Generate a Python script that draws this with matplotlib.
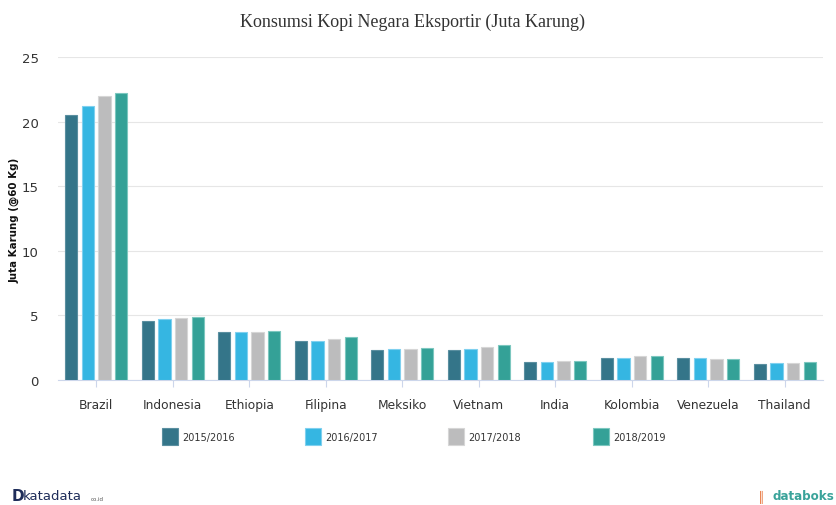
import matplotlib
matplotlib.use("Agg")
import matplotlib.pyplot as plt
import numpy as np
from matplotlib.patches import Rectangle

categories = ["Brazil", "Indonesia", "Ethiopia", "Filipina", "Meksiko",
              "Vietnam", "India", "Kolombia", "Venezuela", "Thailand"]
seasons = ["2015/2016", "2016/2017", "2017/2018", "2018/2019"]
v2015 = [20.5, 4.6, 3.75, 3.05, 2.3, 2.3, 1.43, 1.74, 1.67, 1.25]
v2016 = [21.2, 4.7, 3.75, 3.05, 2.4, 2.4, 1.43, 1.74, 1.67, 1.35]
v2017 = [22.0, 4.77, 3.75, 3.2, 2.4, 2.55, 1.5, 1.82, 1.59, 1.35]
v2018 = [22.2, 4.84, 3.83, 3.33, 2.47, 2.7, 1.5, 1.82, 1.59, 1.43]
series = [v2015, v2016, v2017, v2018]
colors = ["#347589", "#35b6e2", "#bcbcbd", "#34a197"]
edges = ["#5a8fa0", "#7fd0ef", "#d6d6d6", "#7cc7bf"]
yticks = [0, 5, 10, 15, 20, 25]

W, H = 837, 506
fig = plt.figure(figsize=(W / 100, H / 100), dpi=100)
ax = fig.add_axes([58 / W, (H - 381) / H, (823 - 58) / W, (381 - 58) / H])

x = np.arange(len(categories))
pitch = 0.218
width = 0.162
for i, vals in enumerate(series):
    ax.bar(x + (i - 1.5) * pitch, vals, width=width, color=colors[i],
           edgecolor=edges[i], linewidth=0.8, zorder=3)

ax.set_xlim(-0.5, len(categories) - 0.5)
ax.set_ylim(0, 25)
ax.set_yticks(yticks)
ax.set_yticklabels([str(t) for t in yticks])
ax.set_xticks(x)
ax.set_xticklabels(categories)
ax.grid(axis="y", color="#e6e6e6", linewidth=0.8, zorder=0)
for s in ["top", "right", "left"]:
    ax.spines[s].set_visible(False)
ax.spines["bottom"].set_color("#ccd6eb")
ax.tick_params(axis="y", length=0, pad=14, labelsize=9.5, labelcolor="#333333")
ax.tick_params(axis="x", length=5, color="#ccd6eb", pad=8, labelsize=8.8,
               labelcolor="#333333")

fig.text(14 / W, 1 - 220 / H, "Juta Karung (@60 Kg)", rotation=90,
         ha="center", va="center", fontsize=7.4, fontweight="bold", color="#111111")

fig.text(413 / W, 1 - 22 / H, "Konsumsi Kopi Negara Eksportir (Juta Karung)",
         ha="center", va="center", fontsize=13, family="Liberation Serif",
         color="#333333")

# legend
leg_x = [162, 305, 448, 593]
for i, name in enumerate(seasons):
    fig.patches.append(Rectangle((leg_x[i] / W, (H - 446) / H), 16 / W, 17 / H,
                                 transform=fig.transFigure, facecolor=colors[i],
                                 edgecolor=edges[i], linewidth=0.8))
    fig.text((leg_x[i] + 20) / W, 1 - 438 / H, name, ha="left", va="center",
             fontsize=7, color="#333333")

# branding
fig.text(12 / W, 1 - 497 / H, "D", ha="left", va="center", fontsize=11,
         fontweight="bold", color="#1f2d5a")
fig.text(23 / W, 1 - 497 / H, "katadata", ha="left", va="center", fontsize=9.5,
         color="#1f2d5a")
fig.text(91 / W, 1 - 500 / H, "co.id", ha="left", va="center", fontsize=4,
         color="#555555")
fig.text(758 / W, 1 - 497 / H, "\u2551", ha="left", va="center", fontsize=8,
         color="#e8743b")
fig.text(834 / W, 1 - 497 / H, "databoks", ha="right", va="center", fontsize=8.6,
         fontweight="bold", color="#3aa39a")

fig.savefig("out.png", dpi=100, facecolor="white")
